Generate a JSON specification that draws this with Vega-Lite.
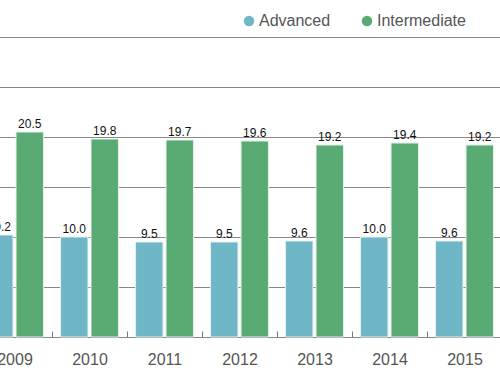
{
  "$schema": "https://vega.github.io/schema/vega-lite/v6.json",
  "autosize": "none",
  "width": 525,
  "height": 300,
  "padding": {"left": -23, "top": 37, "right": 0, "bottom": 46},
  "background": "white",
  "config": {"view": {"stroke": null}, "font": "Liberation Sans"},
  "data": {"values": [
    {"year": "2009", "series": "Advanced", "value": 10.2},
    {"year": "2009", "series": "Intermediate", "value": 20.5},
    {"year": "2010", "series": "Advanced", "value": 10.0},
    {"year": "2010", "series": "Intermediate", "value": 19.8},
    {"year": "2011", "series": "Advanced", "value": 9.5},
    {"year": "2011", "series": "Intermediate", "value": 19.7},
    {"year": "2012", "series": "Advanced", "value": 9.5},
    {"year": "2012", "series": "Intermediate", "value": 19.6},
    {"year": "2013", "series": "Advanced", "value": 9.6},
    {"year": "2013", "series": "Intermediate", "value": 19.2},
    {"year": "2014", "series": "Advanced", "value": 10.0},
    {"year": "2014", "series": "Intermediate", "value": 19.4},
    {"year": "2015", "series": "Advanced", "value": 9.6},
    {"year": "2015", "series": "Intermediate", "value": 19.2}
  ]},
  "encoding": {
    "x": {"field": "year", "type": "nominal", "title": null,
      "scale": {"paddingInner": 0, "paddingOuter": 0},
      "axis": {"labelAngle": 0, "labelFontSize": 16, "labelColor": "#555555", "labelPadding": 20,
        "tickBand": "extent", "tickSize": -6, "tickColor": "#777777", "domainColor": "#888888", "grid": false}},
    "xOffset": {"field": "series", "type": "nominal",
      "scale": {"domain": ["Advanced", "Intermediate"], "paddingInner": 0.1, "paddingOuter": 0.28}},
    "y": {"field": "value", "type": "quantitative", "title": null,
      "scale": {"domain": [0, 30], "nice": false},
      "axis": {"values": [0, 5, 10, 15, 20, 25, 30], "labels": false, "ticks": false, "domain": false,
        "gridColor": "#888888", "gridWidth": 1, "gridOpacity": 1}}
  },
  "layer": [
    {
      "mark": {"type": "bar", "stroke": "#e4f0ec", "strokeWidth": 1},
      "encoding": {
        "color": {"field": "series", "type": "nominal",
          "scale": {"domain": ["Advanced", "Intermediate"], "range": ["#6fb7c7", "#5aab73"]},
          "legend": {"title": null, "orient": "none", "legendX": 264, "legendY": -24, "direction": "horizontal",
            "symbolType": "circle", "symbolSize": 110, "symbolStrokeWidth": 0, "symbolOpacity": 1,
            "labelFontSize": 16, "labelColor": "#555555", "columnPadding": 28, "labelOffset": 2}}
      }
    },
    {
      "mark": {"type": "text", "baseline": "bottom", "dy": -1, "fontSize": 12, "color": "#111111"},
      "encoding": {"text": {"field": "value", "type": "quantitative", "format": ".1f"}}
    }
  ]
}
